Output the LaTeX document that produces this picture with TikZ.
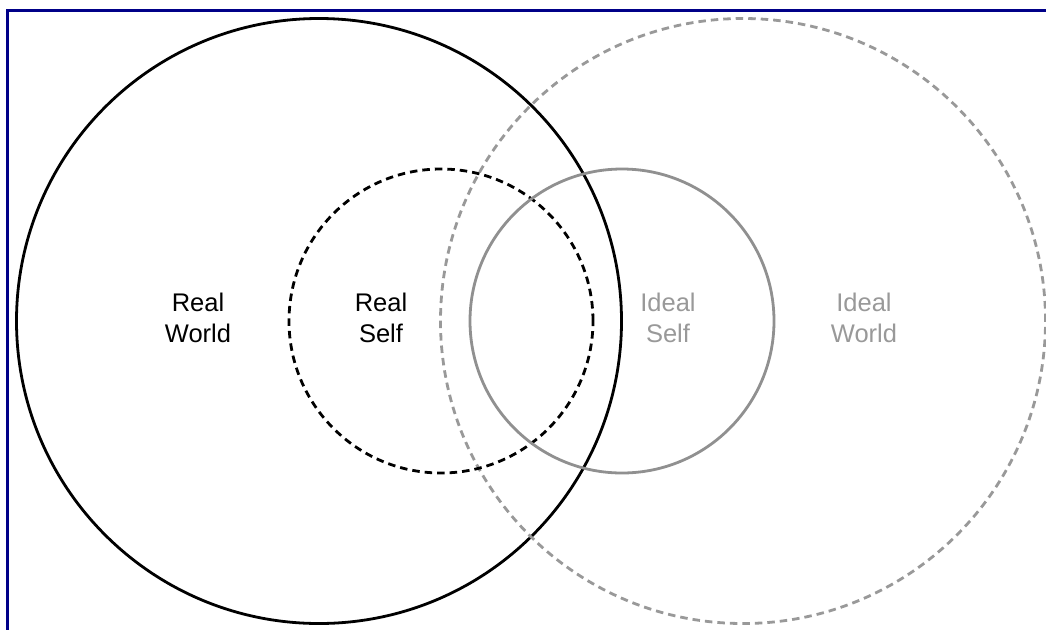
\documentclass[tikz,border=0pt]{standalone}
\usepackage{fontspec}
\setmainfont{Liberation Sans}
\definecolor{navyb}{HTML}{000088}
\definecolor{idealgray}{HTML}{999999}
\definecolor{idealline}{HTML}{909090}
\begin{document}
\begin{tikzpicture}[x=1pt,y=-1pt,
  ring/.style={circle,inner sep=0pt,minimum size=#1,line width=2.8pt},
  dashring/.style={dash pattern=on 7.5pt off 5pt},
  lbl/.style={align=center,font=\fontsize{25.5}{31}\selectfont,inner sep=0pt}]
\useasboundingbox (0,0) rectangle (1046,630);
\fill[white] (0,0) rectangle (1046,630);
\coordinate (tl) at (7.5,10.5);
\coordinate (tr) at (1046,10.5);
\coordinate (bl) at (7.5,630);
\draw[navyb,line width=3pt] (tr) -- (tl) -- (bl);
\node[ring=605pt,draw=black] (rw) at (319,321) {};
\node[ring=605pt,draw=idealgray,dashring] (iw) at (743,321) {};
\node[ring=304pt,draw=black,dashring] (rs) at (441,321) {};
\node[ring=304pt,draw=idealline] (is) at (622,321) {};
\node[lbl,text=black] (trw) at (198,318) {Real\\World};
\node[lbl,text=black] (trs) at (381,318) {Real\\Self};
\node[lbl,text=idealgray] (tis) at (668,318) {Ideal\\Self};
\node[lbl,text=idealgray] (tiw) at (864,318) {Ideal\\World};
\end{tikzpicture}
\end{document}
